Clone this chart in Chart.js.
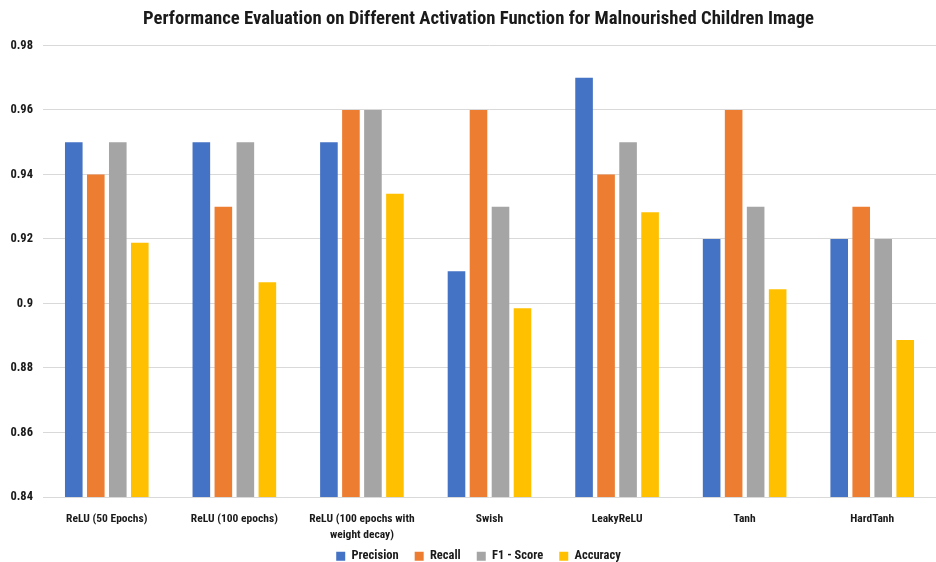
<!DOCTYPE html>
<html>
<head>
<meta charset="utf-8">
<script src="https://cdn.jsdelivr.net/npm/chart.js@4.4.0/dist/chart.umd.min.js"></script>
<style>
  html, body { margin: 0; padding: 0; background: #fff; }
  #wrap { width: 936px; height: 562px; }
</style>
</head>
<body>
<div id="wrap"><canvas id="perfChart" width="936" height="562"></canvas></div>
<script>
const categories = [
  'ReLU (50 Epochs)',
  'ReLU (100 epochs)',
  ['ReLU (100 epochs with', 'weight decay)'],
  'Swish',
  'LeakyReLU',
  'Tanh',
  'HardTanh'
];
const precision = [0.95, 0.95, 0.95, 0.91, 0.97, 0.92, 0.92];
const recall    = [0.94, 0.93, 0.96, 0.96, 0.94, 0.96, 0.93];
const f1Score   = [0.95, 0.95, 0.96, 0.93, 0.95, 0.93, 0.92];
const accuracy  = [0.9188, 0.9066, 0.934, 0.8985, 0.9283, 0.9044, 0.8887];
const yTicks = [0.84, 0.86, 0.88, 0.9, 0.92, 0.94, 0.96, 0.98];

const fontFamily = "'Liberation Sans Narrow', 'Roboto Condensed', Roboto, sans-serif";

function series(label, data, color) {
  return {
    label: label,
    data: data,
    backgroundColor: color,
    borderWidth: 0,
    barPercentage: 0.8,
    categoryPercentage: 0.69
  };
}

function noLabelClip(scale) {
  scale._computeLabelArea = function() { return undefined; };
}

// wide gaps between legend items but a short legend box
const compactLegend = {
  id: 'compactLegend',
  beforeUpdate(chart) {
    const legend = chart.legend;
    if (legend && !legend._compact) {
      const fit = legend.fit;
      legend.fit = function() {
        fit.call(this);
        this.height = 28;
      };
      legend._compact = true;
    }
  }
};

new Chart(document.getElementById('perfChart').getContext('2d'), {
  type: 'bar',
  data: {
    labels: categories,
    datasets: [
      series('Precision', precision, '#4472C4'),
      series('Recall', recall, '#ED7D31'),
      series('F1 - Score', f1Score, '#A5A5A5'),
      series('Accuracy', accuracy, '#FFC000')
    ]
  },
  plugins: [compactLegend],
  options: {
    responsive: false,
    animation: false,
    // left padding moves the title/legend centre right; y labels spill into it
    layout: { padding: { left: 21, right: 0, top: 0, bottom: 0 } },
    plugins: {
      title: {
        display: true,
        text: 'Performance Evaluation on Different Activation Function for Malnourished Children Image',
        color: '#1a1a1a',
        font: { family: fontFamily, size: 18.7, weight: 'bold' },
        padding: { top: 8, bottom: 15 }
      },
      legend: {
        position: 'bottom',
        labels: {
          boxWidth: 9,
          boxHeight: 9,
          padding: 16,
          color: '#1a1a1a',
          font: { family: fontFamily, size: 12.5, weight: 'bold' }
        }
      },
      tooltip: { enabled: false }
    },
    scales: {
      x: {
        grid: { display: false },
        border: { display: false },
        ticks: {
          color: '#1a1a1a',
          maxRotation: 0,
          autoSkip: false,
          padding: 6,
          font: { family: fontFamily, size: 11.5, weight: 'bold', lineHeight: 1.38 }
        },
        afterFit: function(scale) {
          scale.height = 37;
          noLabelClip(scale);
        }
      },
      y: {
        min: 0.84,
        max: 0.98,
        afterBuildTicks: function(scale) {
          scale.ticks = yTicks.map(v => ({ value: v }));
        },
        grid: { color: '#d9d9d9', lineWidth: 1, drawTicks: false },
        border: { display: false },
        ticks: {
          color: '#1a1a1a',
          padding: 10,
          font: { family: fontFamily, size: 12.5, weight: 'bold' },
          callback: function(v) { return String(Number(v.toFixed(2))); }
        },
        afterFit: function(scale) {
          scale.width = 22;
          noLabelClip(scale);
        }
      }
    }
  }
});
</script>
</body>
</html>
